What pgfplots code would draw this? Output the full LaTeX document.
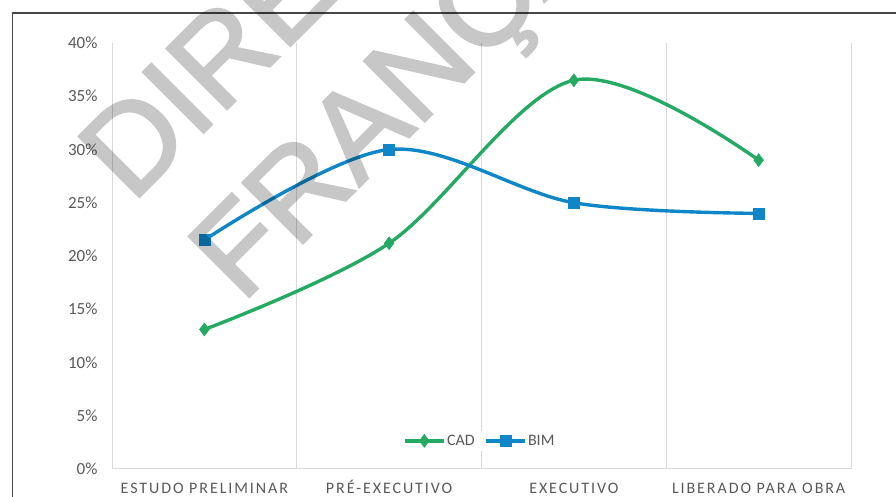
\documentclass[border=0pt]{standalone}
\usepackage{fontspec}
\setmainfont{Carlito}
\newfontfamily\spaced[LetterSpace=12]{Carlito}
\newfontfamily\wm[FakeBold=2]{Liberation Sans}
\usepackage{pgfplots}
\pgfplotsset{compat=1.18}
\definecolor{cad}{RGB}{36,170,98}
\definecolor{bim}{RGB}{14,134,200}
\definecolor{gridc}{RGB}{217,217,217}
\definecolor{lab}{RGB}{89,89,89}
\definecolor{frame}{RGB}{70,70,70}
\begin{document}
\begin{tikzpicture}[x=1pt,y=1pt]
\useasboundingbox (0,0) rectangle (896,497);
\begin{axis}[at={(112pt,28pt)}, anchor=south west, scale only axis,
  width=739pt, height=426pt,
  xmin=-0.5, xmax=3.5, ymin=0, ymax=40,
  axis line style={draw=none},
  major tick length=0pt, minor tick length=0pt,
  xtick={0,1,2,3},
  xticklabels={ESTUDO PRELIMINAR, PRÉ-EXECUTIVO, EXECUTIVO, LIBERADO PARA OBRA},
  minor xtick={-0.5,0.5,1.5,2.5,3.5},
  xminorgrids=true, xmajorgrids=false, ymajorgrids=false,
  minor grid style={gridc, line width=1pt},
  major grid style={gridc, line width=1pt},
  ytick={5,10,15,20,25,30,35,40},
  yticklabels={5\%,10\%,15\%,20\%,25\%,30\%,35\%,40\%},
  extra y ticks={0}, extra y tick labels={0\%},
  extra y tick style={ymajorgrids=true},
  yticklabel style={font=\fontsize{17}{17}\selectfont, text=lab, xshift=-11pt},
  xticklabel style={font=\spaced\fontsize{16}{16}\selectfont, text=lab, inner sep=0pt, text height=10.3pt, text depth=0pt, anchor=north, yshift=-14pt},
  legend style={at={(0.498,0.066)}, anchor=center, draw=none, fill=white,
    font=\fontsize{16}{16}\selectfont, text=lab, legend columns=2,
    /tikz/every even column/.append style={column sep=8pt}},
  legend image code/.code={\draw[mark repeat=2,mark phase=2] plot coordinates {(0pt,0pt) (19pt,0pt) (38pt,0pt)};},
]
\addplot[cad, line width=3.4pt, smooth, tension=0.55, mark=diamond*, mark size=6.5pt, mark options={solid, fill=cad, line width=0.5pt}]
  coordinates {(0,13.1) (1,21.2) (2,36.5) (3,29.0)};
\addlegendentry{CAD}
\addplot[bim, line width=3.4pt, smooth, tension=0.55, mark=square*, mark size=5.5pt, mark options={solid, fill=bim, line width=0.5pt}]
  coordinates {(0,21.5) (1,30.0) (2,25.0) (3,24.0)};
\addlegendentry{BIM}
\end{axis}
\draw[frame, line width=1.5pt] (896,484) -- (12.5,484) -- (12.5,0);
\begin{scope}
\clip (0,0) rectangle (896,497);
\begin{scope}[transparency group, opacity=0.22]
\node[rotate=45, anchor=base west, inner sep=0pt, text=black, font=\wm\fontsize{124}{124}\selectfont] at (132,293) {DIREITOS};
\node[rotate=45, anchor=base west, inner sep=0pt, text=black, font=\wm\fontsize{124}{124}\selectfont] at (242,193) {FRANÇA};
\end{scope}
\end{scope}
\end{tikzpicture}
\end{document}
